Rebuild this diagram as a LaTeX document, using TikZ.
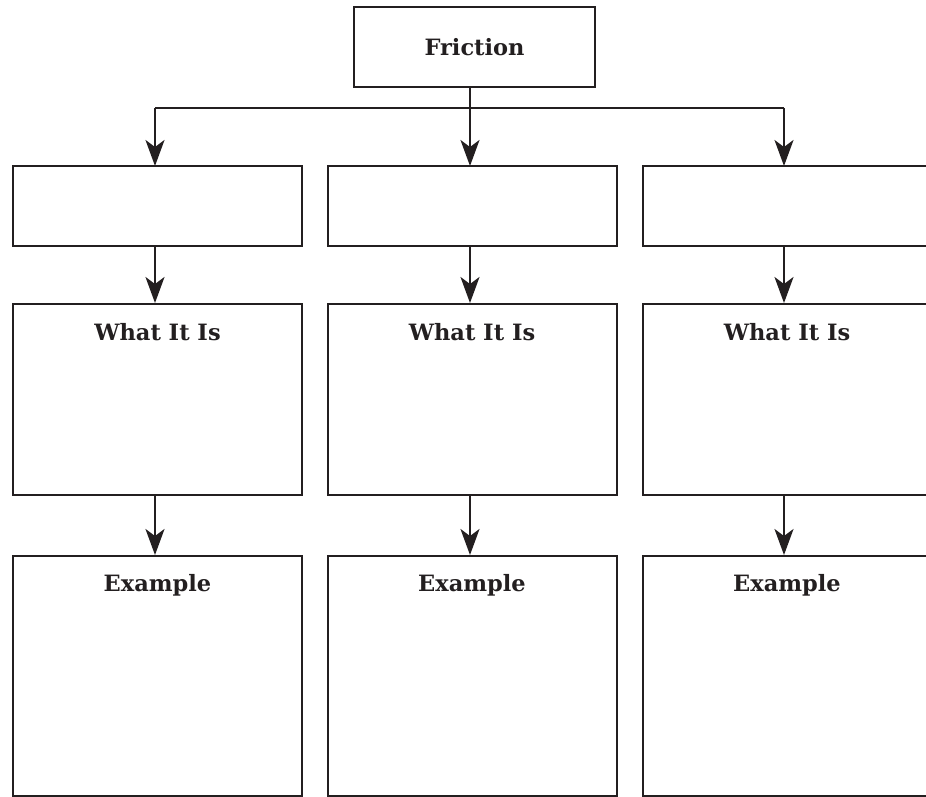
\documentclass[tikz,border=0pt]{standalone}
\usepackage{fontspec}
\setmainfont{DejaVu Serif}
\usetikzlibrary{calc}
\usetikzlibrary{arrows.meta}
\definecolor{ink}{HTML}{231F20}

\begin{document}
\begin{tikzpicture}[x=1pt,y=-1pt,
		box/.style={draw=ink, line width=2pt, inner sep=0pt},
		lbl/.style={text=ink, font=\fontsize{22.5}{27}\selectfont\bfseries},
		arr/.style={draw=ink, line width=2pt, -{Stealth[length=26pt,width=19pt,inset=7pt]}}]
	\useasboundingbox (0,0) rectangle (926,797);
	\clip (0,0) rectangle (926,797);

	\node[box, minimum width=241pt, minimum height=80pt] (fr) at (474.5,47) {};
	\node[lbl] (frt) at (fr) {Friction};

	\node[box, minimum width=289pt, minimum height=80pt] (t1) at (157.5,206) {};
	\node[box, minimum width=289pt, minimum height=80pt] (t2) at (472,206) {};
	\node[box, minimum width=289pt, minimum height=80pt] (t3) at (787,206) {};

	\node[box, minimum width=289pt, minimum height=191pt] (w1) at (157.5,399.5) {};
	\node[box, minimum width=289pt, minimum height=191pt] (w2) at (472,399.5) {};
	\node[box, minimum width=289pt, minimum height=191pt] (w3) at (787,399.5) {};

	\node[box, minimum width=289pt, minimum height=240pt] (e1) at (157.5,676) {};
	\node[box, minimum width=289pt, minimum height=240pt] (e2) at (472,676) {};
	\node[box, minimum width=289pt, minimum height=240pt] (e3) at (787,676) {};

	\foreach \i in {1,2,3} {
		\node[lbl] (wt\i) at ($(w\i.north)+(0,29)$) {What It Is};
		\node[lbl] (et\i) at ($(e\i.north)+(0,30)$) {Example};
	}

	\coordinate (bar) at (470,108);
	\draw[draw=ink, line width=2pt] (fr.south -| bar) -- (bar);
	\draw[draw=ink, line width=2pt] (bar -| 155,0) -- (bar -| 784,0);
	\draw[arr] (155,108) -- (155,166);
	\draw[arr] (bar) -- (470,166);
	\draw[arr] (784,108) -- (784,166);

	\draw[arr] (t1.south -| 155,0) -- (w1.north -| 155,0);
	\draw[arr] (t2.south -| 470,0) -- (w2.north -| 470,0);
	\draw[arr] (t3.south -| 784,0) -- (w3.north -| 784,0);
	\draw[arr] (w1.south -| 155,0) -- (e1.north -| 155,0);
	\draw[arr] (w2.south -| 470,0) -- (e2.north -| 470,0);
	\draw[arr] (w3.south -| 784,0) -- (e3.north -| 784,0);
\end{tikzpicture}
\end{document}
